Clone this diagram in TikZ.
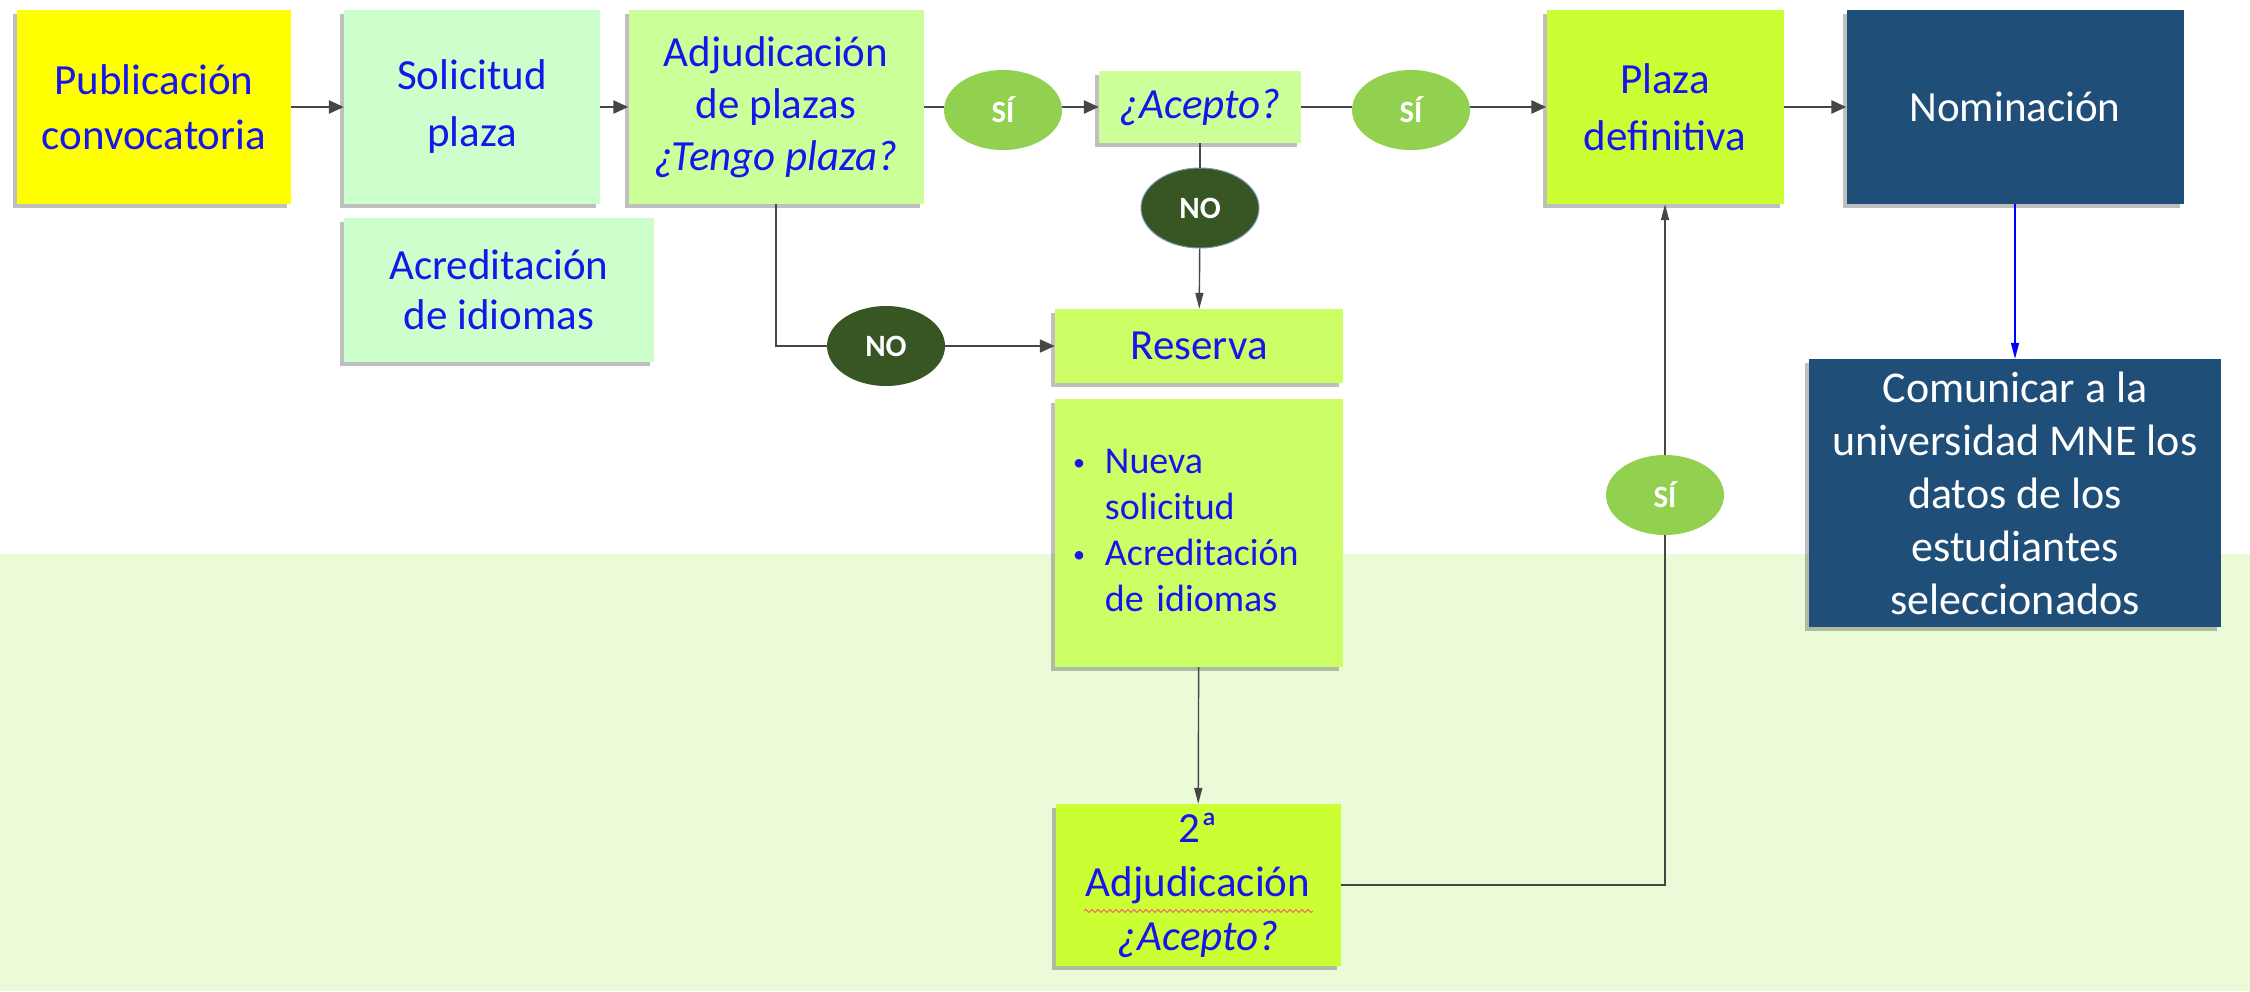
\documentclass[tikz,border=0pt]{standalone}
\usepackage{fontspec}
\setmainfont{Carlito}
\usetikzlibrary{arrows.meta,shapes.geometric,shadows,calc,decorations.pathmorphing}
\definecolor{txtblue}{RGB}{22,22,235}
\definecolor{band}{RGB}{235,251,216}
\definecolor{cyellow}{RGB}{255,255,0}
\definecolor{cmint}{RGB}{204,255,204}
\definecolor{clime1}{RGB}{204,255,153}
\definecolor{clime2}{RGB}{204,255,102}
\definecolor{clime3}{RGB}{204,255,51}
\definecolor{cnavy}{RGB}{31,78,121}
\definecolor{csi}{RGB}{146,208,80}
\definecolor{cno}{RGB}{56,86,35}
\definecolor{cline}{RGB}{70,70,70}
\definecolor{spell}{RGB}{240,110,110}
\begin{document}
\begin{tikzpicture}[x=1pt,y=-1pt,
  box/.style={rectangle, inner sep=0pt, align=center, text=txtblue,
    font=\fontsize{43}{55}\selectfont,
    drop shadow={shadow xshift=-4pt, shadow yshift=-4pt, opacity=0.25, fill=black}},
  oval/.style={ellipse, inner sep=0pt, minimum width=118pt, minimum height=80pt,
    text=white, font=\fontsize{31}{34}\selectfont\bfseries},
  thickline/.style={draw=cline, line width=2.6pt},
  medline/.style={draw=cline, line width=2pt},
  thinline/.style={draw=cline, line width=1.4pt},
  bigtip/.style={-{Triangle[length=15pt,width=13pt]}},
  smalltip/.style={-{Triangle[length=16pt,width=8pt]}}
]
\fill[white] (0,0) rectangle (2250,991);
\fill[band] (0,554) rectangle (2250,991);
\useasboundingbox (0,0) rectangle (2250,991);

% top row
\node[box, fill=cyellow, minimum width=274pt, minimum height=194pt] (pub) at (154,107) {Publicación\\convocatoria};
\node[box, fill=cmint, minimum width=256pt, minimum height=194pt, font=\fontsize{43}{57}\selectfont] (sol) at (472,107) {Solicitud\\plaza};
\node[box, fill=cmint, minimum width=310pt, minimum height=144pt, font=\fontsize{43}{50}\selectfont] (acr) at (499,290) {Acreditación\\de idiomas};
\node[box, fill=clime1, minimum width=295pt, minimum height=194pt, font=\fontsize{43}{52}\selectfont] (adj) at (776,107) {Adjudicación\\de plazas\\\textit{¿Tengo plaza?}};
\node[oval, fill=csi] (si1) at (1003,110) {SÍ};
\node[box, fill=clime1, minimum width=202pt, minimum height=72pt] (acepto) at (1200,107) {\textit{¿Acepto?}};
\node[oval, fill=csi] (si2) at (1411,110) {SÍ};
\node[box, fill=clime3, minimum width=237pt, minimum height=194pt, font=\fontsize{43}{57}\selectfont] (plaza) at (1665,107) {Plaza\\definitiva};
\node[box, fill=cnavy, text=white, minimum width=337pt, minimum height=194pt] (nom) at (2015,107) {Nominación};

% middle
\node[oval, fill=cno, draw=cnavy!60, line width=1pt] (no1) at (1200,208) {NO};
\node[oval, fill=cno] (no2) at (886,346) {NO};
\node[box, fill=clime2, minimum width=288pt, minimum height=74pt] (res) at (1199,346) {Reserva};
\node[box, fill=clime2, minimum width=288pt, minimum height=268pt, text width=288pt, align=left, font=\fontsize{38}{46}\selectfont] (bul) at (1199,533)
  {\hspace*{18pt}\begin{tabular}{@{}l@{\hspace{20pt}}l@{}}\raisebox{3pt}{\fontsize{24}{24}\selectfont\textbullet} & Nueva\\ & solicitud\\ \raisebox{3pt}{\fontsize{24}{24}\selectfont\textbullet} & Acreditación\\ & de idiomas\end{tabular}};
\node[box, fill=clime3, minimum width=285pt, minimum height=162pt, font=\fontsize{43}{54}\selectfont] (adj2) at (1198,885) {2ª\\Adjudicación\\\textit{¿Acepto?}};
\draw[spell, line width=1pt, decorate, decoration={snake, amplitude=1.5pt, segment length=6pt}] (1084,911) -- (1313,911);
\node[oval, fill=csi] (si3) at (1665,495) {SÍ};
\node[box, fill=cnavy, text=white, minimum width=412pt, minimum height=268pt, font=\fontsize{44}{53}\selectfont] (com) at (2015,493)
  {Comunicar a la\\universidad MNE los\\datos de los\\estudiantes\\seleccionados};

% connectors
\draw[thickline, bigtip] (pub) -- (sol);
\draw[thickline, bigtip] (sol) -- (adj);
\draw[thickline] (adj.east |- acepto) -- (si1.west |- acepto);
\draw[thickline, bigtip] (si1.east |- acepto) -- (acepto);
\draw[thickline] (acepto) -- (si2.west |- acepto);
\draw[thickline, bigtip] (si2.east |- acepto) -- (plaza);
\draw[thickline, bigtip] (plaza) -- (nom);
\draw[thinline] (acepto) -- (no1);
\draw[thinline, smalltip] (no1) -- (res);
\draw[thinline] (adj.south) |- (no2);
\draw[medline, bigtip] (no2) -- (res);
\draw[thinline, smalltip] (bul) -- (adj2);
\draw[thinline] (adj2.east) -| (si3);
\draw[thinline, smalltip] (si3) -- (plaza);
\draw[draw=blue, line width=1.4pt, -{Triangle[length=16pt,width=8pt]}] (nom) -- (com);
\end{tikzpicture}
\end{document}
